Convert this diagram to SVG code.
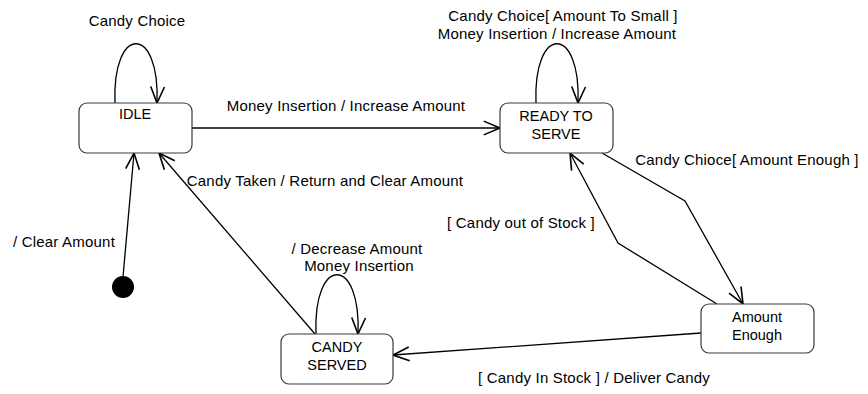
<svg xmlns="http://www.w3.org/2000/svg" width="868" height="394" viewBox="0 0 868 394">
  <style>
    .state rect { fill: #ffffff; stroke: #3a3a3a; stroke-width: 1.2; }
    .state text { font-family: "Liberation Sans", Arial, sans-serif; font-size: 14.5px; fill: #000; text-anchor: middle; }
    .edge { fill: none; stroke: #000; stroke-width: 1.3; marker-end: url(#open); }
    .lbl { font-family: "Liberation Sans", Arial, sans-serif; font-size: 15px; letter-spacing: 0.2px; fill: #000; text-anchor: middle; }
  </style>
  <defs>
    <marker id="open" markerUnits="userSpaceOnUse" markerWidth="20" markerHeight="20" viewBox="-14 -8 16 16" refX="0" refY="0" orient="auto">
      <path d="M-13,-5.5 L0,0 L-13,5.5" fill="none" stroke="#000" stroke-width="1.3"/>
    </marker>
  </defs>
  <rect width="868" height="394" fill="#ffffff"/>

  <!-- transitions -->
  <g id="connectors">
    <path class="edge" d="M115,103 C112,24 160,24 157,103"/>
    <path class="edge" d="M536,103 C533,24 581,24 578,103"/>
    <path class="edge" d="M316,334 C313,255 361,255 358,334"/>
    <path class="edge" d="M192,128 L500,128"/>
    <path class="edge" d="M123,277 L134,153"/>
    <path class="edge" d="M315,334 L159,153"/>
    <path class="edge" d="M602,153 L685,201 L743,304"/>
    <path class="edge" d="M717,304 L618,243 L570,153"/>
    <path class="edge" d="M701,333 L393,355"/>
  </g>

  <!-- transition labels -->
  <g id="labels">
    <text class="lbl" x="137" y="26">Candy Choice</text>
    <text class="lbl" x="563" y="21">Candy Choice[ Amount To Small ]</text>
    <text class="lbl" x="557" y="39">Money Insertion / Increase Amount</text>
    <text class="lbl" x="346" y="111">Money Insertion / Increase Amount</text>
    <text class="lbl" x="325" y="186">Candy Taken / Return and Clear Amount</text>
    <text class="lbl" x="747" y="165">Candy Chioce[ Amount Enough ]</text>
    <text class="lbl" x="521" y="228">[ Candy out of Stock ]</text>
    <text class="lbl" x="64" y="247">/ Clear Amount</text>
    <text class="lbl" x="357" y="254">/ Decrease Amount</text>
    <text class="lbl" x="359" y="271">Money Insertion</text>
    <text class="lbl" x="594" y="383">[ Candy In Stock ] / Deliver Candy</text>
  </g>

  <!-- states -->
  <g id="initial">
    <circle cx="123" cy="287" r="11" fill="#000"/>
  </g>
  <g id="idle" class="state">
    <rect x="79" y="103" width="113" height="50" rx="8"/>
    <text x="135" y="119">IDLE</text>
  </g>
  <g id="ready-to-serve" class="state">
    <rect x="500" y="103" width="113" height="50" rx="8"/>
    <text x="556" y="121">READY TO</text>
    <text x="556" y="139">SERVE</text>
  </g>
  <g id="candy-served" class="state">
    <rect x="281" y="334" width="112" height="50" rx="8"/>
    <text x="337" y="352">CANDY</text>
    <text x="337" y="370">SERVED</text>
  </g>
  <g id="amount-enough" class="state">
    <rect x="701" y="304" width="113" height="49" rx="8"/>
    <text x="757" y="322">Amount</text>
    <text x="757" y="340">Enough</text>
  </g>
</svg>
